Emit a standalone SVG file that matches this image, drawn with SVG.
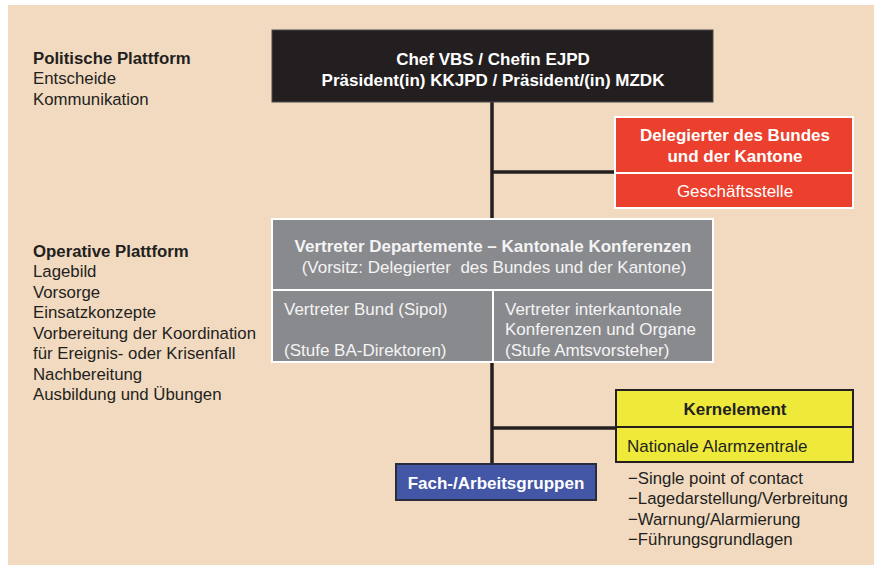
<svg xmlns="http://www.w3.org/2000/svg" width="874" height="565" viewBox="0 0 874 565">
<style>
text{font-family:"Liberation Sans",Arial,sans-serif;font-size:17px;}
.side{font-size:16.8px;fill:#231f20;}
.b{font-weight:bold;}
.w{fill:#ffffff;}
.g{fill:#f4f4f4;}
.c{text-anchor:middle;}
.conn{stroke:#231f20;stroke-width:3.5;fill:none;}
</style>
<rect x="0" y="0" width="874" height="565" fill="#ffffff"/>
<rect x="8" y="5" width="866" height="560" fill="#f2dac0"/>

<g id="side-politisch">
<text class="side b" x="33" y="64">Politische Plattform</text>
<text class="side" x="33" y="84">Entscheide</text>
<text class="side" x="33" y="105">Kommunikation</text>
</g>

<g id="side-operativ">
<text class="side b" x="33" y="257">Operative Plattform</text>
<text class="side" x="33" y="277">Lagebild</text>
<text class="side" x="33" y="298">Vorsorge</text>
<text class="side" x="33" y="318">Einsatzkonzepte</text>
<text class="side" x="33" y="339">Vorbereitung der Koordination</text>
<text class="side" x="33" y="359">für Ereignis- oder Krisenfall</text>
<text class="side" x="33" y="380">Nachbereitung</text>
<text class="side" x="33" y="400">Ausbildung und Übungen</text>
</g>

<g id="connectors">
<line class="conn" x1="492" y1="102" x2="492" y2="220"/>
<line class="conn" x1="492" y1="172" x2="616" y2="172"/>
<line class="conn" x1="492" y1="362" x2="492" y2="464"/>
<line class="conn" x1="492" y1="428" x2="616" y2="428"/>
</g>

<g id="chef">
<rect x="272" y="30" width="441" height="72" fill="#231f20" stroke="#4a4a4a" stroke-width="1"/>
<text class="w b c" x="493" y="65">Chef VBS / Chefin EJPD</text>
<text class="w b c" x="493" y="86">Präsident(in) KKJPD / Präsident/(in) MZDK</text>
</g>

<g id="delegierter">
<rect x="615" y="117" width="238" height="91" fill="#ea402d" stroke="#ffffff" stroke-width="2"/>
<line x1="615" y1="173" x2="853" y2="173" stroke="#ffffff" stroke-width="2"/>
<text class="w b c" x="735" y="141">Delegierter des Bundes</text>
<text class="w b c" x="735" y="162">und der Kantone</text>
<text class="w c" x="735" y="197">Geschäftsstelle</text>
</g>

<g id="vertreter">
<rect x="272" y="219" width="441" height="143" fill="#898a8e" stroke="#ffffff" stroke-width="2"/>
<line x1="272" y1="290" x2="713" y2="290" stroke="#ffffff" stroke-width="2"/>
<line x1="493" y1="290" x2="493" y2="362" stroke="#ffffff" stroke-width="2"/>
<text class="g b c" x="493" y="252">Vertreter Departemente – Kantonale Konferenzen</text>
<text class="g c" x="494" y="273" xml:space="preserve">(Vorsitz: Delegierter  des Bundes und der Kantone)</text>
<text class="g" x="284" y="315">Vertreter Bund (Sipol)</text>
<text class="g" x="284" y="356">(Stufe BA-Direktoren)</text>
<text class="g" x="505" y="315">Vertreter interkantonale</text>
<text class="g" x="505" y="335">Konferenzen und Organe</text>
<text class="g" x="505" y="356">(Stufe Amtsvorsteher)</text>
</g>

<g id="kernelement">
<rect x="616" y="390" width="237" height="72" fill="#efea3a" stroke="#231f20" stroke-width="2"/>
<line x1="616" y1="427" x2="853" y2="427" stroke="#231f20" stroke-width="2"/>
<text class="b c" x="735" y="415" fill="#231f20">Kernelement</text>
<text x="627" y="452" fill="#231f20">Nationale Alarmzentrale</text>
</g>

<g id="fach">
<rect x="396" y="464" width="200" height="36" fill="#4456a6" stroke="#2b2b3f" stroke-width="2"/>
<text class="w b c" x="496" y="489">Fach-/Arbeitsgruppen</text>
</g>

<g id="aufgaben">
<text class="side" x="628" y="484">−Single point of contact</text>
<text class="side" x="628" y="504">−Lagedarstellung/Verbreitung</text>
<text class="side" x="628" y="525">−Warnung/Alarmierung</text>
<text class="side" x="628" y="545">−Führungsgrundlagen</text>
</g>
</svg>
